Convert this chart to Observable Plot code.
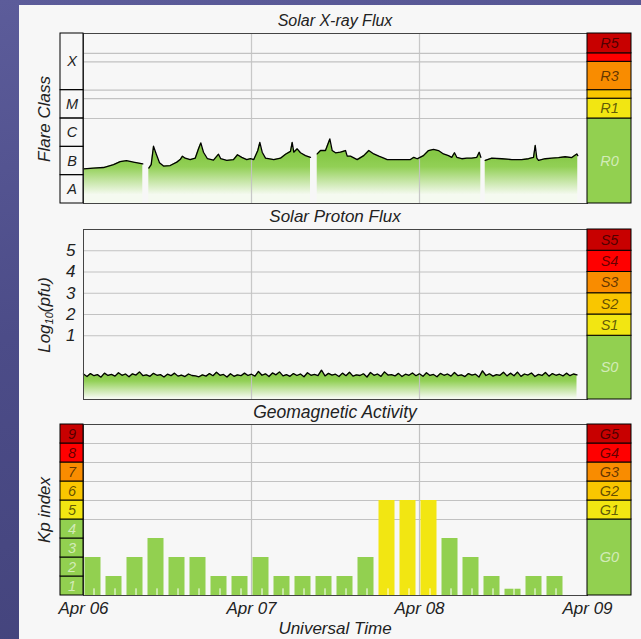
<!DOCTYPE html>
<html><head><meta charset="utf-8">
<script src="https://cdn.jsdelivr.net/npm/d3@7"></script>
<script src="https://cdn.jsdelivr.net/npm/@observablehq/plot@0.6"></script>
<style>
html,body{margin:0;padding:0;}
body{width:641px;height:639px;overflow:hidden;background:#4f4f8a;}
#page{position:relative;width:641px;height:639px;overflow:hidden;
  background:linear-gradient(170deg,#5c5c9a 0%,#4c4c88 45%,#42427a 100%);
  font-family:"Liberation Sans",Arial,sans-serif;}
#panel{position:absolute;left:19px;top:5px;width:622px;height:634px;background:#f7f7f7;}
.title{position:absolute;left:83px;width:504px;text-align:center;font-style:italic;color:#222;white-space:nowrap;line-height:1;}
.ylab{position:absolute;font-style:italic;color:#222;font-size:17px;line-height:17px;white-space:nowrap;transform:translate(-50%,-50%) rotate(-90deg);}
.ylab sub{font-size:11px;vertical-align:-3px;line-height:0;}
</style></head>
<body><div id="page"><div id="panel"></div></div>
<script>
// ---------- data ----------
const startUTC = Date.UTC(2014, 3, 6);
const dayHours = [0, 24, 48, 72];            // Apr 06, Apr 07, Apr 08, Apr 09

// Solar X-ray flux, log10(W/m^2); null = data gap
const xrayHours = [0,1.43,2.86,4.29,5.24,6.14,7.14,8.47,8.8,9.33,9.67,10.0,10.39,10.86,11.43,12.39,13.33,13.81,14.14,14.53,15.24,15.96,16.43,16.76,17.14,17.71,18.57,19.29,19.61,20.47,21.43,22.0,22.61,23.33,23.86,24.33,24.9,25.19,25.53,26.0,27.19,28.14,28.86,29.57,29.81,30.04,30.53,31.0,31.71,32.43,32.9,33.39,33.86,34.57,35.19,35.53,36.0,36.71,37.43,37.67,38.14,39.1,40.04,40.76,41.47,42.19,42.9,43.39,44.1,45.29,46.71,47.19,47.67,47.86,48.57,49.29,50.0,50.71,51.43,52.14,52.61,53.0,53.33,54.04,54.76,55.47,56.19,56.53,56.76,57.1,57.39,58.33,59.76,61.19,62.61,63.57,64.29,64.53,64.76,65.0,65.96,66.9,67.86,68.81,69.76,70.47,70.61];
const xrayLogFlux = [-6.78,-6.75,-6.73,-6.63,-6.52,-6.49,-6.54,-6.60,null,-6.75,-6.63,-5.98,-6.25,-6.56,-6.68,-6.66,-6.54,-6.45,-6.33,-6.40,-6.45,-6.40,-6.07,-5.86,-6.19,-6.42,-6.47,-6.26,-6.42,-6.48,-6.45,-6.28,-6.37,-6.45,-6.42,-6.45,-6.13,-5.84,-6.19,-6.40,-6.45,-6.40,-6.26,-6.16,-5.84,-6.19,-6.07,-6.21,-6.31,-6.37,null,-6.25,-6.13,-6.13,-5.72,-6.13,-6.21,-6.19,-6.13,-6.33,-6.33,-6.45,-6.31,-6.13,-6.25,-6.33,-6.40,-6.45,-6.45,-6.45,-6.45,-6.37,-6.42,-6.40,-6.31,-6.13,-6.09,-6.13,-6.25,-6.31,-6.37,-6.21,-6.37,-6.42,-6.40,-6.40,-6.37,-6.19,-6.37,null,-6.48,-6.40,-6.42,-6.45,-6.45,-6.42,-6.37,-5.95,-6.40,-6.48,-6.42,-6.40,-6.38,-6.35,-6.38,-6.25,-6.31];
const xrayDomain = [-8, -2];
const flareClasses = ["A", "B", "C", "M", "X"];
const flareLow = [-8, -7, -6, -5, -4];
const flareHigh = [-7, -6, -5, -4, -2];
const rLevels = ["R0", "R1", "R2", "R3", "R4", "R5"];
const rLow = [-8, -5, -4.30, -4, -3, -2.70];
const rHigh = [-5, -4.30, -4, -3, -2.70, -2];
const rShow = [true, true, false, true, false, true];

// Solar proton flux, log10(pfu), sampled every 0.5 h
const protonStepHours = 0.5;
const protonLogPfu = [
-0.80,-0.92,-0.78,-0.88,-0.83,-0.95,-0.76,-0.87,-0.82,-0.90,-0.74,-0.86,-0.80,-0.93,-0.79,-0.85,-0.70,-0.88,-0.84,-0.91,-0.77,-0.86,-0.83,-0.94,-0.81,-0.88,-0.76,-0.90,-0.85,-0.92,-0.80,-0.87,-0.89,-0.93,-0.84,-0.90,-0.78,-0.88,-0.72,-0.86,-0.82,-0.94,-0.79,-0.91,-0.84,-0.88,-0.76,-0.87,
-0.81,-0.90,-0.68,-0.86,-0.79,-0.92,-0.75,-0.84,-0.70,-0.89,-0.83,-0.91,-0.78,-0.87,-0.80,-0.93,-0.74,-0.86,-0.82,-0.88,-0.62,-0.89,-0.77,-0.85,-0.81,-0.92,-0.76,-0.88,-0.72,-0.90,-0.84,-0.87,-0.79,-0.94,-0.73,-0.86,-0.80,-0.91,-0.70,-0.85,-0.83,-0.89,-0.77,-0.92,-0.81,-0.86,-0.75,-0.88,
-0.79,-0.91,-0.74,-0.87,-0.82,-0.93,-0.77,-0.86,-0.80,-0.90,-0.73,-0.88,-0.84,-0.92,-0.78,-0.85,-0.81,-0.94,-0.65,-0.87,-0.79,-0.90,-0.83,-0.86,-0.72,-0.89,-0.76,-0.88,-0.71,-0.91,-0.80,-0.85,-0.75,-0.92,-0.82,-0.87,-0.73,-0.90,-0.78,-0.86,-0.81,-0.89,-0.76,-0.88,-0.80,-0.84];
const protonDomain = [-2, 6];
const protonTicks = [1, 2, 3, 4, 5];
const sLevels = ["S0", "S1", "S2", "S3", "S4", "S5"];
const sLow = [-2, 1, 2, 3, 4, 5];
const sHigh = [1, 2, 3, 4, 5, 6];

// Planetary Kp index, 3-hourly (null = not yet available)
const kpValues = [2,1,2,3,2,2,1,1, 2,1,1,1,1,2,5,5, 5,3,2,1,0.33,1,1,null];
const kpDomain = [0, 9];
const kpCells = [1, 2, 3, 4, 5, 6, 7, 8, 9];
const gLevels = ["G0", "G1", "G2", "G3", "G4", "G5"];
const gLow = [0, 4, 5, 6, 7, 8];
const gHigh = [4, 5, 6, 7, 8, 9];

const scaleColors = ["#92d050", "#f2e612", "#f9c600", "#f98c00", "#ff0000", "#c80000"];

// ---------- helpers ----------
const toDate = h => new Date(startUTC + h * 3600e3);
const days = dayHours.map(toDate);
const innerDays = days.slice(1, 3);
const xDomain = [days[0], days[3]];
const page = document.getElementById("page");
const FONT = '"Liberation Sans", Arial, sans-serif';
const baseStyle = {overflow: "visible", background: "transparent", fontFamily: FONT, color: "#222"};
const gridColor = "#c2c2c2";

function place(el, left, top) {
  el.style.position = "absolute";
  el.style.left = left + "px";
  el.style.top = top + "px";
  page.appendChild(el);
}
function addText(cls, html, css) {
  const d = document.createElement("div");
  d.className = cls; d.innerHTML = html;
  Object.assign(d.style, css);
  page.appendChild(d);
}
function addGradient(svg, id, y1, y2, stops) {
  const g = d3.select(svg).insert("defs", ":first-child")
    .append("linearGradient").attr("id", id)
    .attr("gradientUnits", "userSpaceOnUse")
    .attr("x1", 0).attr("x2", 0).attr("y1", y1).attr("y2", y2);
  stops.forEach(([o, c]) => g.append("stop").attr("offset", o).attr("stop-color", c));
}
const greenStops = [[0, "#86c846"], [0.3, "#92d056"], [0.7, "#cbe8ae"], [1, "#f5faf0"]];

function levelBox(levels, lo, hi, show, domain, h) {
  const data = levels.map((l, i) => ({level: l, y1: lo[i], y2: hi[i], mid: (lo[i] + hi[i]) / 2, show: show ? show[i] : true, light: i === 0}));
  return Plot.plot({
    width: 44, height: h, margin: 0,
    y: {domain, axis: null},
    color: {domain: levels, range: scaleColors},
    style: baseStyle,
    marks: [
      Plot.rect(data, {y1: "y1", y2: "y2", fill: "level", stroke: "black", strokeWidth: 1}),
      Plot.text(data.filter(d => d.show && !d.light), {y: "mid", text: "level", frameAnchor: "middle", fill: "black", fillOpacity: 0.62, fontSize: 14.5, fontStyle: "italic"}),
      Plot.text(data.filter(d => d.light), {y: "mid", text: "level", frameAnchor: "middle", fill: "white", fillOpacity: 0.6, fontSize: 14.5, fontStyle: "italic"})
    ]
  });
}

// ---------- Panel 1: X-ray ----------
const xray = xrayHours.map((h, i) => ({t: toDate(h), v: xrayLogFlux[i]}));
const xrayPlot = Plot.plot({
  width: 504, height: 170, margin: 0,
  x: {type: "utc", domain: xDomain, axis: null},
  y: {domain: xrayDomain, axis: null},
  style: baseStyle,
  marks: [
    Plot.ruleY(rLow.slice(1), {stroke: gridColor, strokeWidth: 1.2}),
    Plot.areaY(xray, {x: "t", y1: xrayDomain[0], y2: "v", fill: "url(#gradXray)"}),
    Plot.ruleX(innerDays, {stroke: gridColor, strokeWidth: 1.2, strokeOpacity: 0.9}),
    Plot.lineY(xray, {x: "t", y: "v", stroke: "black", strokeWidth: 1.3}),
    Plot.frame({stroke: "#444"})
  ]
});
{
  const ys = xrayPlot.scale("y");
  addGradient(xrayPlot, "gradXray", ys.apply(-6.3), ys.apply(-7.7), greenStops);
}
place(xrayPlot, 83, 33);

const flareData = flareClasses.map((c, i) => ({c, y1: flareLow[i], y2: flareHigh[i], mid: (flareLow[i] + flareHigh[i]) / 2}));
place(Plot.plot({
  width: 23, height: 170, margin: 0,
  y: {domain: xrayDomain, axis: null},
  style: baseStyle,
  marks: [
    Plot.rect(flareData, {y1: "y1", y2: "y2", fill: "none", stroke: "black"}),
    Plot.text(flareData, {y: "mid", text: "c", frameAnchor: "middle", fill: "#222", fontSize: 14.5, fontStyle: "italic"})
  ]
}), 60, 33);
place(levelBox(rLevels, rLow, rHigh, rShow, xrayDomain, 170), 587, 33);

// ---------- Panel 2: Protons ----------
const proton = protonLogPfu.map((v, i) => ({t: toDate(i * protonStepHours), v}));
const protonPlot = Plot.plot({
  width: 504, height: 170, margin: 0,
  x: {type: "utc", domain: xDomain, axis: null},
  y: {domain: protonDomain, axis: null},
  style: baseStyle,
  marks: [
    Plot.ruleY(protonTicks, {stroke: gridColor, strokeWidth: 1.2}),
    Plot.areaY(proton, {x: "t", y1: protonDomain[0], y2: "v", fill: "url(#gradProton)"}),
    Plot.ruleX(innerDays, {stroke: gridColor, strokeWidth: 1.2, strokeOpacity: 0.9}),
    Plot.lineY(proton, {x: "t", y: "v", stroke: "black", strokeWidth: 1.3}),
    Plot.axisY({ticks: protonTicks, tickSize: 0, tickPadding: 8, fontSize: 17, fontStyle: "italic", label: null}),
    Plot.frame({stroke: "#444"})
  ]
});
{
  const ys = protonPlot.scale("y");
  addGradient(protonPlot, "gradProton", ys.apply(-0.8), ys.apply(-1.95), greenStops);
}
place(protonPlot, 83, 229);
place(levelBox(sLevels, sLow, sHigh, null, protonDomain, 170), 587, 229);

// ---------- Panel 3: Kp ----------
const gLevelOf = v => v < 5 ? "G0" : "G" + (Math.floor(v) - 4);
const kp = kpValues.map((v, i) => ({t0: toDate(i * 3), t1: toDate(i * 3 + 3), tm: toDate(i * 3 + 1.5), kp: v, level: v == null ? null : gLevelOf(v)}))
  .filter(d => d.kp != null);
place(Plot.plot({
  width: 504, height: 171, margin: 0,
  x: {type: "utc", domain: xDomain},
  y: {domain: kpDomain, axis: null},
  color: {domain: gLevels, range: scaleColors},
  style: baseStyle,
  marks: [
    Plot.ruleY(gLow.slice(1), {stroke: gridColor, strokeWidth: 1.2}),
    Plot.ruleX(innerDays, {stroke: gridColor, strokeWidth: 1.2}),
    Plot.rectY(kp, {x1: "t0", x2: "t1", y: "kp", fill: "level", insetLeft: 1.5, insetRight: 3.5}),
    Plot.ruleX(kp, {x: "tm", y1: 0, y2: 0.35, stroke: "white", strokeWidth: 1}),
    Plot.axisX({ticks: days, tickFormat: d3.utcFormat("%b %d"), tickSize: 0, tickPadding: 6, fontSize: 17, fontStyle: "italic", label: null}),
    Plot.frame({stroke: "#444"})
  ]
}), 83, 424);

const kpCellData = kpCells.map(k => ({k: String(k), y1: k - 1, y2: k, mid: k - 0.5, level: gLevelOf(k)}));
place(Plot.plot({
  width: 23, height: 171, margin: 0,
  y: {domain: kpDomain, axis: null},
  color: {domain: gLevels, range: scaleColors},
  style: baseStyle,
  marks: [
    Plot.rect(kpCellData, {y1: "y1", y2: "y2", fill: "level", stroke: "black"}),
    Plot.text(kpCellData.filter(d => d.level === "G0"), {y: "mid", text: "k", frameAnchor: "middle", fill: "white", fillOpacity: 0.6, fontSize: 14.5, fontStyle: "italic"}),
    Plot.text(kpCellData.filter(d => d.level !== "G0"), {y: "mid", text: "k", frameAnchor: "middle", fill: "black", fillOpacity: 0.62, fontSize: 14.5, fontStyle: "italic"})
  ]
}), 60, 424);
place(levelBox(gLevels, gLow, gHigh, null, kpDomain, 171), 587, 424);

// ---------- texts ----------
addText("title", "Solar X-ray Flux", {top: "13px", fontSize: "16px"});
addText("title", "Solar Proton Flux", {top: "208px", fontSize: "17px"});
addText("title", "Geomagnetic Activity", {top: "403.5px", fontSize: "17.5px"});
addText("title", "Universal Time", {top: "619.5px", fontSize: "17px"});
addText("ylab", "Flare Class", {left: "44px", top: "119px"});
addText("ylab", "Log<sub>10</sub>(pfu)", {left: "44px", top: "315px"});
addText("ylab", "Kp index", {left: "44px", top: "510px"});
</script></body></html>
